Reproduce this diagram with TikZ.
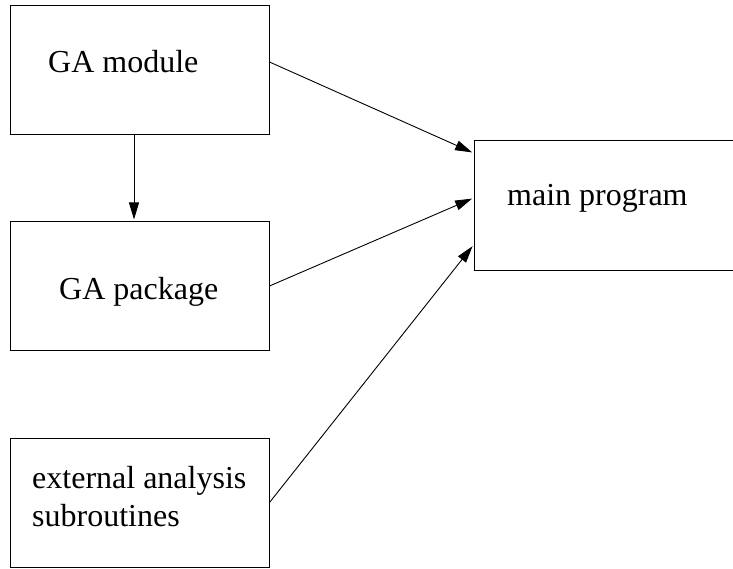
\documentclass[tikz,border=0pt]{standalone}
\usepackage{fontspec}
\setmainfont{Liberation Serif}
\usetikzlibrary{arrows.meta}
\begin{document}
\begin{tikzpicture}[x=1pt,y=-1pt,
  box/.style={draw=black,line width=1pt,rectangle,inner sep=0pt,minimum width=259pt,minimum height=129pt},
  lbl/.style={anchor=base west,inner sep=0pt,font=\fontsize{32}{38}\selectfont},
  conn/.style={line width=0.9pt,shorten >=1.5pt,-{Triangle[length=17pt,width=10pt]}}]
\useasboundingbox (0,0) rectangle (733,569);
\clip (0,0) rectangle (733,569);
\node[box] (mod) at (139.5,70.5) {};
\node[box] (pkg) at (139.5,286) {};
\node[box] (ext) at (139.5,502.5) {};
\node[box] (main) at (603.5,205.5) {};
\node[lbl] (tmod) at (48,73) {GA module};
\node[lbl] (tpkg) at (59,299) {GA package};
\node[lbl] (text1) at (32,488) {external analysis};
\node[lbl] (text2) at (32,526) {subroutines};
\node[lbl] (tmain) at (507,206) {main program};
\draw[conn] ([xshift=-5.5pt]mod.south) -- ([xshift=-5.5pt]pkg.north);
\draw[conn] ([yshift=8.5pt]mod.east) -- ([yshift=52.5pt]main.west);
\draw[conn] (pkg.east) -- ([yshift=7.5pt]main.west);
\draw[conn] (ext.east) -- ([yshift=-39.5pt]main.west);
\end{tikzpicture}
\end{document}
